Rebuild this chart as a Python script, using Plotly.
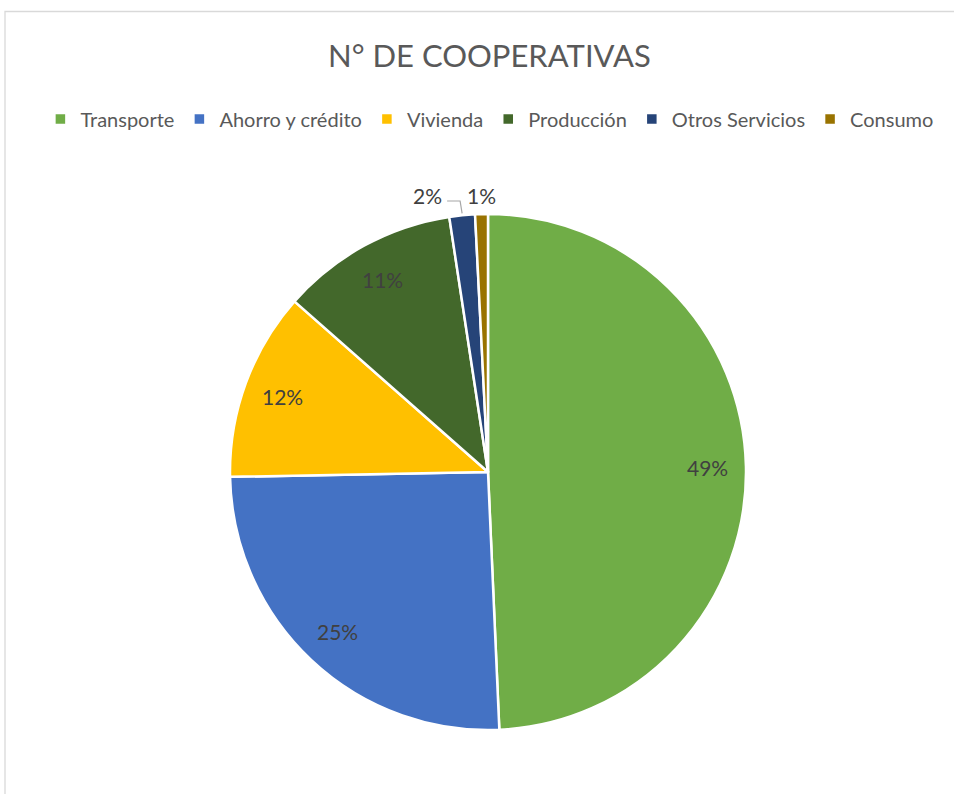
import math
import plotly.graph_objects as go

# Number of cooperatives by sector (share, %)
categories = ["Transporte", "Ahorro y crédito", "Vivienda", "Producción", "Otros Servicios", "Consumo"]
values = [49.3, 25.4, 11.8, 11.1, 1.6, 0.8]
colors = ["#70AD47", "#4472C4", "#FFC000", "#43682B", "#264478", "#997300"]
title_text = "N° DE COOPERATIVAS"

W, H = 954, 794
CX, CY, R = 488, 472, 258  # pie centre and radius in pixels
FONT = "Lato"


def px(x):
    return x / W


def py(y):
    return 1 - y / H


fig = go.Figure()
fig.add_trace(go.Pie(
    labels=categories,
    values=values,
    marker=dict(colors=colors, line=dict(color="white", width=2.5)),
    sort=False,
    direction="clockwise",
    rotation=0,
    textinfo="none",
    hoverinfo="label+percent",
    domain=dict(x=[px(CX - R), px(CX + R)], y=[py(CY + R), py(CY - R)]),
))

# Percentage labels positioned at each slice's mid-angle
total = sum(values)
annotations = []
shapes = []
label_font = dict(family=FONT, size=21, color="#404040")
cum = 0.0
for i, v in enumerate(values):
    frac = v / total
    mid = (cum + frac / 2) * 2 * math.pi
    cum += frac
    pct = f"{round(frac * 100):.0f}%"
    if frac > 0.05:
        rr = 0.85 * R
        x = CX + rr * math.sin(mid)
        y = CY - rr * math.cos(mid)
    else:
        ex = CX + R * math.sin(mid)
        ey = CY - R * math.cos(mid)
        y = CY - R - 19
        if i == 4:
            x = ex - 35
            shapes.append(dict(type="path", xref="paper", yref="paper",
                               path=(f"M {px(ex - 15)},{py(y + 6)} L {px(ex - 2)},{py(y + 6)} "
                                     f"L {px(ex)},{py(ey - 2)}"),
                               line=dict(color="#A6A6A6", width=1.2)))
        else:
            x = ex
    annotations.append(dict(x=px(x), y=py(y), xref="paper", yref="paper", text=pct,
                            xanchor="center", yanchor="middle",
                            showarrow=False, font=label_font))

# Chart-area border
shapes.append(dict(type="rect", xref="paper", yref="paper", x0=px(5), x1=px(W + 20),
                   y0=py(H + 20), y1=py(11.5), line=dict(color="#D9D9D9", width=1.3),
                   fillcolor="rgba(0,0,0,0)"))

fig.update_layout(
    width=W, height=H,
    margin=dict(l=0, r=0, t=0, b=0),
    paper_bgcolor="white",
    plot_bgcolor="white",
    title=dict(text=title_text, x=0.513, xanchor="center", y=py(56), yanchor="middle",
               font=dict(family=FONT, size=31, color="#595959")),
    legend=dict(orientation="h", x=0.513, xanchor="center", y=py(119), yanchor="middle",
                font=dict(family=FONT, size=20, color="#595959"), itemwidth=30,
                traceorder="normal"),
    annotations=annotations,
    shapes=shapes,
)

fig.write_html("out.html")
